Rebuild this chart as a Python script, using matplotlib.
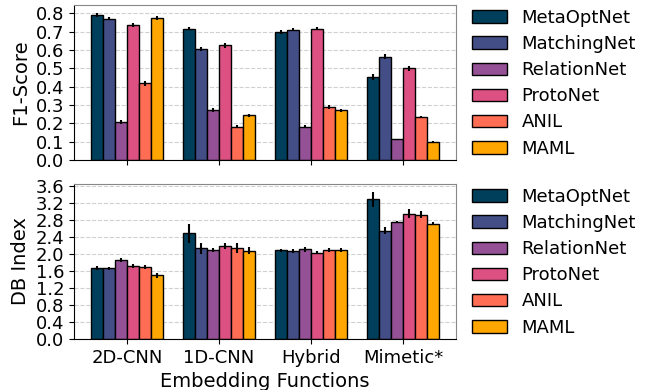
import matplotlib
matplotlib.use("Agg")
import matplotlib.pyplot as plt
import numpy as np

groups = ["2D-CNN", "1D-CNN", "Hybrid", "Mimetic*"]
methods = ["MetaOptNet", "MatchingNet", "RelationNet", "ProtoNet", "ANIL", "MAML"]
colors = ["#003f5c", "#444e86", "#955196", "#dd5182", "#ff6e54", "#ffa600"]

# F1-score per method, order of groups
f1 = {
    "MetaOptNet":  [0.789, 0.717, 0.697, 0.452],
    "MatchingNet": [0.771, 0.606, 0.711, 0.564],
    "RelationNet": [0.208, 0.272, 0.180, 0.112],
    "ProtoNet":    [0.735, 0.625, 0.717, 0.500],
    "ANIL":        [0.417, 0.180, 0.290, 0.234],
    "MAML":        [0.773, 0.243, 0.272, 0.100],
}
f1_err = {
    "MetaOptNet":  [0.010, 0.010, 0.012, 0.015],
    "MatchingNet": [0.010, 0.012, 0.010, 0.012],
    "RelationNet": [0.010, 0.010, 0.008, 0.003],
    "ProtoNet":    [0.010, 0.012, 0.010, 0.015],
    "ANIL":        [0.012, 0.008, 0.010, 0.008],
    "MAML":        [0.010, 0.010, 0.008, 0.002],
}
db = {
    "MetaOptNet":  [1.68, 2.49, 2.09, 3.29],
    "MatchingNet": [1.66, 2.14, 2.07, 2.55],
    "RelationNet": [1.86, 2.09, 2.11, 2.75],
    "ProtoNet":    [1.71, 2.18, 2.03, 2.95],
    "ANIL":        [1.69, 2.14, 2.10, 2.93],
    "MAML":        [1.50, 2.08, 2.10, 2.72],
}
db_err = {
    "MetaOptNet":  [0.05, 0.23, 0.04, 0.18],
    "MatchingNet": [0.04, 0.13, 0.04, 0.08],
    "RelationNet": [0.04, 0.05, 0.05, 0.02],
    "ProtoNet":    [0.05, 0.07, 0.04, 0.11],
    "ANIL":        [0.05, 0.11, 0.04, 0.09],
    "MAML":        [0.06, 0.09, 0.05, 0.04],
}

fs = 13
fig = plt.figure(figsize=(6.48, 3.9), dpi=100)
ax1 = fig.add_axes([0.114, 0.590, 0.590, 0.397])
ax2 = fig.add_axes([0.114, 0.131, 0.590, 0.397])

x = np.arange(len(groups))
w = 0.13

def draw(ax, vals, errs, ylabel, ticks):
    ax.set_axisbelow(True)
    ax.yaxis.grid(True, linestyle="--", color="#d0d0d0", linewidth=0.8)
    for i, m in enumerate(methods):
        ax.bar(x + (i - 2.5) * w, vals[m], w, yerr=errs[m], color=colors[i],
               edgecolor="black", linewidth=1.0, label=m,
               error_kw=dict(ecolor="black", elinewidth=1.5, capsize=0))
    ax.set_ylabel(ylabel, fontsize=fs + 1)
    ax.set_yticks(ticks)
    ax.set_yticklabels([f"{t:.1f}" for t in ticks])
    ax.tick_params(labelsize=fs)
    for s in ["top", "right"]:
        ax.spines[s].set_color("#888888")
    ax.set_xticks(x)
    ax.legend(loc="upper left", bbox_to_anchor=(0.999, 1.08), frameon=False,
              fontsize=fs, handlelength=1.95, labelspacing=0.45)

draw(ax1, f1, f1_err, "F1-Score", np.arange(0, 0.81, 0.1))
ax1.set_xticklabels([])
draw(ax2, db, db_err, "DB Index", np.arange(0, 3.61, 0.4))
ax2.set_xticklabels(groups)
ax2.set_xlabel("Embedding Functions", fontsize=fs + 1)
ax1.set_ylim(0, 0.845)
ax2.set_ylim(0, 3.65)

fig.savefig("out.png", dpi=100)
